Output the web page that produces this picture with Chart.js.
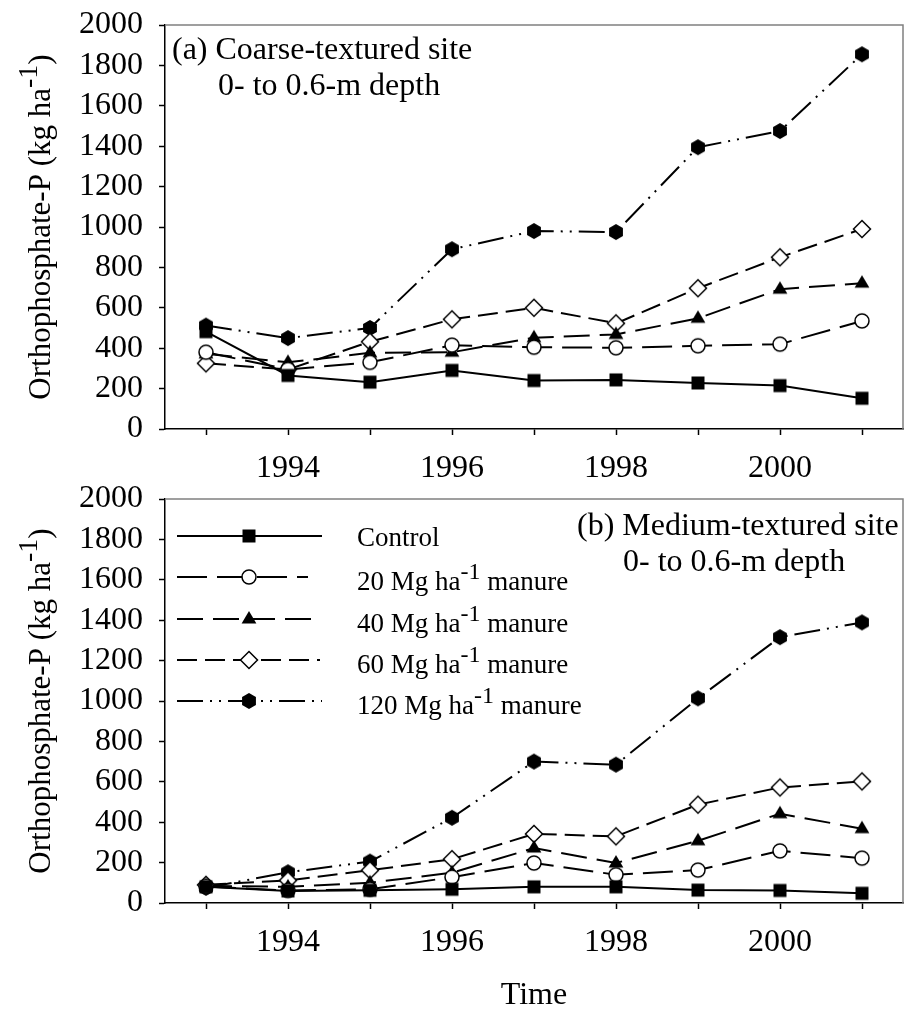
<!DOCTYPE html>
<html>
<head>
<meta charset="utf-8">
<script src="https://cdn.jsdelivr.net/npm/chart.js@4.4.1/dist/chart.umd.min.js"></script>
<style>
  html, body { margin: 0; padding: 0; background: #fff; }
  #wrap { position: relative; width: 904px; height: 1015px; }
  canvas { position: absolute; left: 0; }
</style>
</head>
<body>
<div id="wrap">
  <canvas id="chartA" width="904" height="480" style="top:0"></canvas>
  <canvas id="chartB" width="904" height="540" style="top:475px"></canvas>
</div>
<script>
// x positions (years) and the labelled ticks
const years = [1993, 1994, 1995, 1996, 1997, 1998, 1999, 2000, 2001];
const yearLabels = [1994, 1996, 1998, 2000];
const seriesNames = ['Control', '20 Mg ha-1 manure', '40 Mg ha-1 manure', '60 Mg ha-1 manure', '120 Mg ha-1 manure'];

// (a) coarse-textured site
const coarseControl = [482, 265, 232, 290, 240, 243, 228, 215, 152];
const coarse20 = [380, 295, 330, 415, 405, 402, 412, 420, 535];
const coarse40 = [372, 330, 377, 380, 452, 468, 548, 692, 722];
const coarse60 = [325, 295, 432, 543, 600, 523, 697, 850, 990];
const coarse120 = [512, 450, 500, 890, 980, 975, 1395, 1475, 1855];

// (b) medium-textured site
const mediumControl = [80, 60, 63, 68, 80, 80, 64, 62, 48];
const medium20 = [82, 62, 68, 128, 198, 140, 163, 258, 222];
const medium40 = [85, 80, 100, 150, 272, 198, 308, 442, 368];
const medium60 = [90, 112, 162, 217, 342, 330, 487, 572, 602];
const medium120 = [75, 152, 205, 422, 700, 685, 1013, 1316, 1389];

const SERIF = '"Liberation Serif", "Times New Roman", serif';
const dashes = [[], [30, 10], [26, 10], [20, 8], [26, 7, 2, 7, 2, 7]];

// marker images (used as pointStyle and in the legend)
function marker(kind) {
  const c = document.createElement('canvas');
  c.width = 22; c.height = 22;
  const g = c.getContext('2d');
  g.lineWidth = 1.5;
  g.strokeStyle = '#000';
  g.fillStyle = '#000';
  g.beginPath();
  if (kind === 'square') {
    g.rect(4.5, 4.5, 13, 13);
    g.fill();
  } else if (kind === 'circle') {
    g.arc(11, 11, 7, 0, Math.PI * 2);
    g.fillStyle = '#fff'; g.fill(); g.stroke();
  } else if (kind === 'triangle') {
    g.moveTo(11, 3); g.lineTo(18.4, 15.5); g.lineTo(3.6, 15.5); g.closePath();
    g.fill();
  } else if (kind === 'diamond') {
    g.moveTo(11, 2.5); g.lineTo(19.5, 11); g.lineTo(11, 19.5); g.lineTo(2.5, 11); g.closePath();
    g.fillStyle = '#fff'; g.fill(); g.stroke();
  } else {
    for (let k = 0; k < 6; k++) {
      const a = Math.PI / 2 + k * Math.PI / 3;
      const px = 11 + 8 * Math.cos(a), py = 11 + 8 * Math.sin(a);
      if (k === 0) g.moveTo(px, py); else g.lineTo(px, py);
    }
    g.closePath();
    g.fill();
  }
  return c;
}
const markers = ['square', 'circle', 'triangle', 'diamond', 'hexagon'].map(marker);

// text with a raised "-1"
function drawSup(ctx, text, x, y, size) {
  const parts = text.split('-1');
  const main = size + 'px ' + SERIF;
  const sup = Math.round(size * 0.9) + 'px ' + SERIF;
  const pieces = parts.length > 1 ? [[parts[0], main, 0], ['-1', sup, -0.42 * size], [parts[1], main, 0]] : [[text, main, 0]];
  let w = 0;
  pieces.forEach(p => { ctx.font = p[1]; w += ctx.measureText(p[0]).width; });
  if (x === null) x = -w / 2;
  pieces.forEach(p => {
    ctx.font = p[1];
    ctx.fillText(p[0], x, y + p[2]);
    x += ctx.measureText(p[0]).width;
  });
}

function noPad(s) {
  s.paddingTop = 0; s.paddingBottom = 0; s.paddingLeft = 0; s.paddingRight = 0;
}

function makeChart(id, series, opts) {
  const datasets = series.map((vals, i) => ({
    label: seriesNames[i],
    data: years.map((x, j) => ({ x: x, y: vals[j] })),
    borderColor: '#000',
    borderWidth: 2,
    borderDash: dashes[i],
    pointStyle: markers[i],
    pointRadius: 8,
    fill: false,
    tension: 0
  }));

  const decor = {
    id: 'decor',
    afterDraw(chart) {
      const ctx = chart.ctx;
      const a = chart.chartArea;
      ctx.save();
      // grey top and right frame
      ctx.strokeStyle = '#808080';
      ctx.lineWidth = 1.5;
      ctx.beginPath();
      ctx.moveTo(a.left, a.top); ctx.lineTo(a.right, a.top); ctx.lineTo(a.right, a.bottom);
      ctx.stroke();

      ctx.fillStyle = '#000';
      ctx.textBaseline = 'alphabetic';
      ctx.textAlign = 'left';
      // panel caption
      ctx.font = '32px ' + SERIF;
      ctx.fillText(opts.caption[0], opts.capX[0], opts.capY[0]);
      ctx.fillText(opts.caption[1], opts.capX[1], opts.capY[1]);

      // legend
      if (opts.legend) {
        const rows = [61, 102, 144, 185, 226];
        const textY = [71, 115, 157, 198, 239];
        const ends = [322, 308, 313, 320, 322];
        series.forEach((s, i) => {
          ctx.strokeStyle = '#000';
          ctx.lineWidth = 2;
          ctx.setLineDash(dashes[i]);
          ctx.beginPath();
          ctx.moveTo(177, rows[i]);
          ctx.lineTo(ends[i], rows[i]);
          ctx.stroke();
          ctx.setLineDash([]);
          ctx.drawImage(markers[i], 249 - 11, rows[i] - 11);
          drawSup(ctx, seriesNames[i], 357, textY[i], 27);
        });
      }

      // y axis title
      ctx.translate(50, (a.top + a.bottom) / 2);
      ctx.rotate(-Math.PI / 2);
      drawSup(ctx, 'Orthophosphate-P (kg ha-1)', null, 0, 31);
      ctx.restore();
    }
  };

  return new Chart(document.getElementById(id), {
    type: 'line',
    data: { datasets: datasets },
    options: {
      responsive: false,
      animation: false,
      events: [],
      layout: { autoPadding: false, padding: { top: opts.top, right: 1, left: 0, bottom: 0 } },
      plugins: { legend: { display: false }, tooltip: { enabled: false } },
      scales: {
        x: {
          type: 'linear',
          min: 1992.5,
          max: 2001.5,
          afterBuildTicks: s => { s.ticks = years.map(v => ({ value: v })); },
          afterFit: s => { s.height = opts.xHeight; noPad(s); },
          ticks: {
            autoSkip: false,
            maxRotation: 0,
            padding: 14,
            color: '#000',
            font: { family: SERIF, size: 32 },
            callback: v => yearLabels.includes(v) ? String(v) : ''
          },
          grid: { drawOnChartArea: false, drawTicks: true, tickLength: 6, tickColor: '#000', tickWidth: 1.5 },
          border: { display: true, color: '#000', width: 1.5 },
          title: {
            display: opts.showTime,
            text: 'Time',
            color: '#000',
            font: { family: SERIF, size: 32 },
            padding: { top: 0, bottom: 0 }
          }
        },
        y: {
          min: 0,
          max: 2000,
          afterFit: s => { s.width = 165; noPad(s); },
          ticks: {
            stepSize: 200,
            autoSkip: false,
            padding: 16,
            color: '#000',
            font: { family: SERIF, size: 32 },
            callback: v => String(v)
          },
          grid: { drawOnChartArea: false, drawTicks: true, tickLength: 6, tickColor: '#000', tickWidth: 1.5 },
          border: { display: true, color: '#000', width: 1.5 }
        }
      }
    },
    plugins: [decor]
  });
}

makeChart('chartA', [coarseControl, coarse20, coarse40, coarse60, coarse120], {
  top: 25, xHeight: 480 - 429, showTime: false, legend: false,
  caption: ['(a) Coarse-textured site', '0- to 0.6-m depth'],
  capX: [172, 218], capY: [59, 95]
});

makeChart('chartB', [mediumControl, medium20, medium40, medium60, medium120], {
  top: 24, xHeight: 540 - 428, showTime: true, legend: true,
  caption: ['(b) Medium-textured site', '0- to 0.6-m depth'],
  capX: [577, 623], capY: [60, 96]
});
</script>
</body>
</html>
